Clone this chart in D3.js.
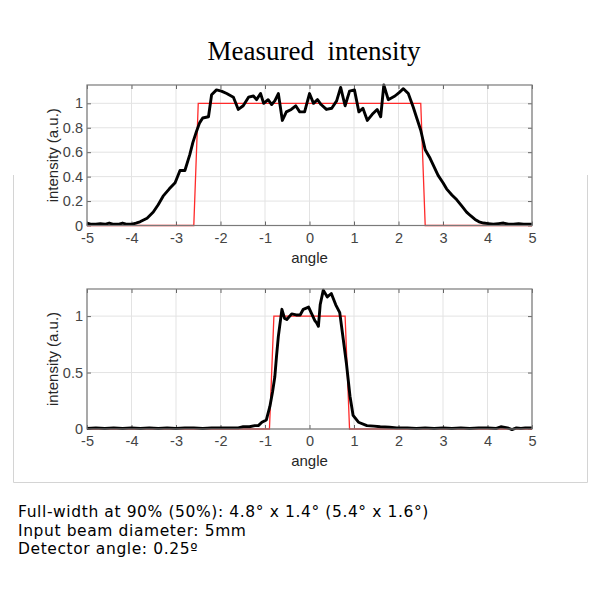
<!DOCTYPE html>
<html><head><meta charset="utf-8">
<script src="https://cdn.jsdelivr.net/npm/d3@7"></script>
<style>body{margin:0;background:#fff}</style>
</head><body><svg id="c" width="600" height="600" xmlns="http://www.w3.org/2000/svg"></svg>
<script>
// ---------- data ----------
const title = "Measured  intensity";
const xLabel = "angle";
const yLabel = "intensity (a.u.)";
const xTicks = [-5,-4,-3,-2,-1,0,1,2,3,4,5];
const topYTicks = [0,0.2,0.4,0.6,0.8,1];
const botYTicks = [0,0.5,1];
const notes = [
  "Full-width at 90% (50%): 4.8\u00b0 x 1.4\u00b0 (5.4\u00b0 x 1.6\u00b0)",
  "Input beam diameter: 5mm",
  "Detector angle: 0.25\u00ba"
];

const topAngle = [-5.0,-4.9,-4.8,-4.7,-4.6,-4.5,-4.4,-4.3,-4.2,-4.1,-4.0,-3.9,-3.81,-3.65,-3.51,-3.4,-3.29,-3.15,-3.02,-2.91,-2.8,-2.69,-2.62,-2.54,-2.47,-2.4,-2.27,-2.2,-2.09,-1.98,-1.86,-1.71,-1.6,-1.49,-1.37,-1.26,-1.19,-1.1,-1.03,-0.93,-0.85,-0.78,-0.7,-0.61,-0.52,-0.41,-0.31,-0.22,-0.11,0.0,0.09,0.18,0.26,0.38,0.5,0.61,0.7,0.8,0.9,1.01,1.11,1.2,1.3,1.41,1.52,1.6,1.67,1.77,1.92,2.02,2.11,2.22,2.33,2.41,2.5,2.6,2.71,2.8,2.89,3.0,3.08,3.2,3.31,3.42,3.53,3.62,3.72,3.81,3.91,4.02,4.13,4.25,4.36,4.47,4.58,4.7,4.81,4.9,5.0];
const topIntensity = [0.02,0.01,0.01,0.015,0.01,0.02,0.01,0.01,0.02,0.01,0.01,0.02,0.03,0.06,0.11,0.17,0.24,0.3,0.35,0.45,0.45,0.58,0.68,0.77,0.84,0.88,0.89,1.07,1.11,1.1,1.08,1.05,0.95,0.98,1.05,1.06,1.03,1.08,1.0,1.03,0.99,1.02,1.08,0.86,0.93,0.95,0.98,0.93,0.93,1.08,1.0,1.03,0.99,0.95,0.96,1.02,1.13,0.98,1.1,1.11,0.93,0.96,0.86,0.91,0.95,0.89,1.15,1.03,1.06,1.09,1.12,1.08,0.97,0.88,0.78,0.62,0.55,0.48,0.41,0.35,0.3,0.25,0.21,0.16,0.11,0.08,0.05,0.03,0.02,0.015,0.01,0.015,0.02,0.01,0.01,0.015,0.01,0.01,0.01];
const topRefAngle = [-5,-2.6,-2.5,2.5,2.6,5];
const topRefIntensity = [0,0,1,1,0,0];

const botAngle = [-5.0,-4.8,-4.6,-4.4,-4.2,-4.0,-3.8,-3.6,-3.4,-3.2,-3.0,-2.8,-2.6,-2.4,-2.2,-2.0,-1.8,-1.6,-1.49,-1.35,-1.23,-1.15,-1.07,-0.97,-0.89,-0.83,-0.78,-0.74,-0.7,-0.62,-0.56,-0.51,-0.4,-0.3,-0.21,-0.14,-0.02,0.05,0.12,0.16,0.2,0.24,0.31,0.4,0.49,0.59,0.68,0.76,0.83,0.91,0.98,1.1,1.29,1.45,1.59,1.8,1.96,2.2,2.4,2.6,2.8,3.0,3.2,3.4,3.6,3.8,4.0,4.2,4.3,4.45,4.55,4.65,4.75,4.85,5.0];
const botIntensity = [0.005,0.01,0.005,0.01,0.005,0.01,0.005,0.01,0.005,0.01,0.005,0.01,0.01,0.005,0.01,0.01,0.01,0.01,0.02,0.02,0.03,0.03,0.06,0.08,0.2,0.33,0.46,0.65,0.82,1.06,0.98,0.97,1.02,1.01,1.01,1.06,1.08,1.02,0.96,0.94,0.91,1.1,1.23,1.17,1.2,1.1,1.03,0.79,0.58,0.29,0.12,0.06,0.03,0.025,0.02,0.015,0.01,0.01,0.005,0.01,0.005,0.01,0.005,0.01,0.005,0.01,0.01,0.005,0.02,0.01,-0.005,0.01,0.005,0.01,0.01];
const botRefAngle = [-5,-0.9,-0.8,0.8,0.9,5];
const botRefIntensity = [0,0,1,1,0,0];

// ---------- drawing ----------
const svg = d3.select("#c");

// figure frame
svg.append("path")
  .attr("d", "M13.5,175 V482.5 H587.5 V175")
  .attr("fill","none").attr("stroke","#d4d4d4").attr("stroke-width",1);

svg.append("text").text(title)
  .attr("x", 314).attr("y", 60)
  .attr("text-anchor","middle")
  .attr("xml:space","preserve").style("white-space","pre")
  .attr("font-family","'Liberation Serif','DejaVu Serif',serif")
  .attr("font-size", 27).attr("fill","#000");

const x = d3.scaleLinear().domain([-5,5]).range([87,532]);
const sans = "'Liberation Sans',Arial,sans-serif";

function panel(top, bottom, ymax, yTicks, ang, val, refA, refV) {
  const y = d3.scaleLinear().domain([0, ymax]).range([bottom, top]);
  const g = svg.append("g");
  // grid
  g.selectAll(".gx").data(xTicks).join("line")
    .attr("x1", d=>x(d)).attr("x2", d=>x(d)).attr("y1", top).attr("y2", bottom)
    .attr("stroke","#e3e3e3").attr("stroke-width",1);
  g.selectAll(".gy").data(yTicks).join("line")
    .attr("y1", d=>y(d)).attr("y2", d=>y(d)).attr("x1", 87).attr("x2", 532)
    .attr("stroke","#e3e3e3").attr("stroke-width",1);
  // axes with inward ticks
  const tickStyle = sel => {
    sel.select(".domain").remove();
    sel.selectAll(".tick line").attr("stroke","#666").attr("stroke-width",1);
    sel.selectAll(".tick text").attr("fill","#444")
      .attr("font-family",sans).attr("font-size",14.5);
  };
  g.append("g").attr("transform",`translate(0,${bottom})`)
    .call(d3.axisBottom(x).tickValues(xTicks).tickFormat(d=>String(d)).tickSizeInner(-4).tickPadding(7))
    .call(tickStyle);
  g.append("g").attr("transform",`translate(0,${top})`)
    .call(d3.axisTop(x).tickValues(xTicks).tickFormat("").tickSizeInner(-4))
    .call(tickStyle);
  g.append("g").attr("transform",`translate(87,0)`)
    .call(d3.axisLeft(y).tickValues(yTicks).tickFormat(d=>String(d)).tickSizeInner(-4).tickPadding(4))
    .call(tickStyle);
  g.append("g").attr("transform",`translate(532,0)`)
    .call(d3.axisRight(y).tickValues(yTicks).tickFormat("").tickSizeInner(-4))
    .call(tickStyle);
  // lines
  const line = d3.line().x(d=>x(d[0])).y(d=>y(d[1]));
  g.append("path").datum(refA.map((a,i)=>[a,refV[i]]))
    .attr("d", line).attr("fill","none").attr("stroke","#ff2a2a").attr("stroke-width",1.3);
  g.append("path").datum(ang.map((a,i)=>[a,val[i]]))
    .attr("d", line).attr("fill","none").attr("stroke","#000").attr("stroke-width",2.9)
    .attr("stroke-linejoin","round");
  // box
  g.append("rect").attr("x",87).attr("y",top).attr("width",532-87).attr("height",bottom-top)
    .attr("fill","none").attr("stroke","#7a7a7a").attr("stroke-width",1.2);
  // labels
  g.append("text").text(xLabel).attr("x",(87+532)/2).attr("y",bottom+37)
    .attr("text-anchor","middle").attr("fill","#262626")
    .attr("font-family",sans).attr("font-size",15);
  g.append("text").text(yLabel)
    .attr("transform",`translate(58,${(top+bottom)/2}) rotate(-90)`)
    .attr("text-anchor","middle").attr("fill","#262626")
    .attr("font-family",sans).attr("font-size",15);
}

panel(85, 225.5, 1.15, topYTicks, topAngle, topIntensity, topRefAngle, topRefIntensity);
panel(289, 429, 1.24, botYTicks, botAngle, botIntensity, botRefAngle, botRefIntensity);

svg.selectAll(".note").data(notes).join("text")
  .text(d=>d).attr("x",18).attr("y",(d,i)=>517+i*18.5)
  .attr("font-family","'DejaVu Sans',Verdana,sans-serif").attr("font-size",15.5)
  .attr("letter-spacing",0.6).attr("fill","#000");
</script></body></html>
